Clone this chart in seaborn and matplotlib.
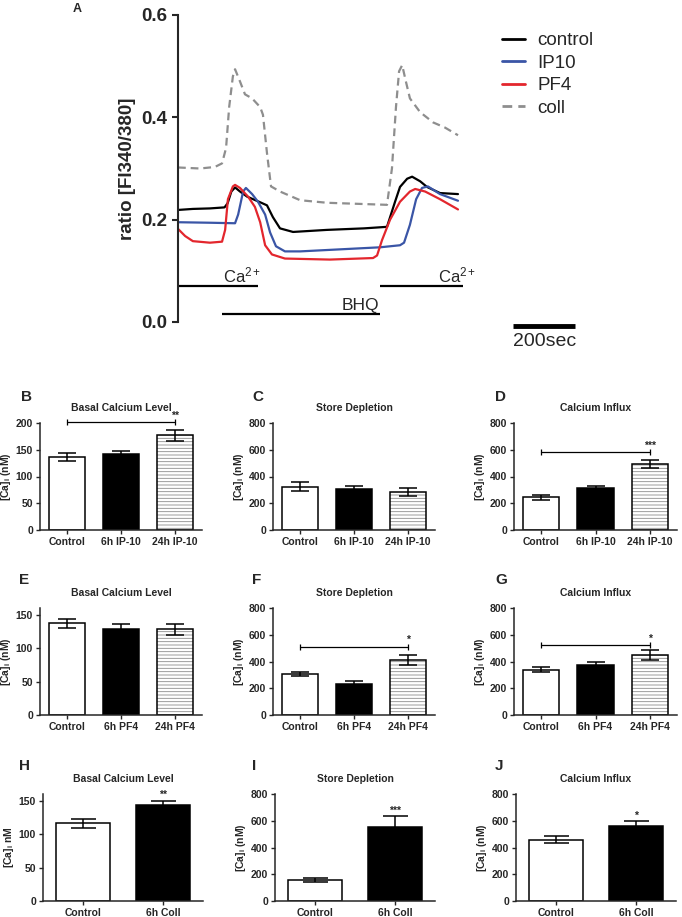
import numpy as np
import pandas as pd
import matplotlib
matplotlib.use("Agg")
import matplotlib.pyplot as plt
from matplotlib.patches import Rectangle
from matplotlib.ticker import FormatStrFormatter
import seaborn as sns

# ---------- panel A: fura-2 ratio traces (time in sec) ----------
ctrl_t = [0, 48, 103, 150, 160, 172, 184, 200, 223, 265, 287, 306, 329, 371, 480, 600, 674,
          700, 716, 739, 755, 781, 803, 845, 903]
ctrl_v = [0.219, 0.221, 0.222, 0.224, 0.232, 0.255, 0.263, 0.255, 0.245, 0.234, 0.228, 0.205,
          0.183, 0.176, 0.180, 0.183, 0.186, 0.235, 0.264, 0.280, 0.284, 0.275, 0.264, 0.252, 0.250]

ip10_t = [0, 103, 184, 194, 210, 219, 239, 258, 281, 297, 316, 345, 394, 523, 652, 716, 729,
          748, 768, 787, 806, 845, 903]
ip10_v = [0.195, 0.194, 0.193, 0.210, 0.255, 0.262, 0.250, 0.235, 0.210, 0.175, 0.148, 0.138,
          0.138, 0.142, 0.146, 0.150, 0.155, 0.190, 0.240, 0.262, 0.265, 0.250, 0.237]

pf4_t = [0, 23, 48, 103, 142, 152, 161, 177, 184, 200, 226, 248, 265, 281, 303, 345, 490, 629,
         642, 658, 684, 716, 748, 765, 797, 845, 903]
pf4_v = [0.182, 0.168, 0.158, 0.155, 0.157, 0.180, 0.240, 0.265, 0.268, 0.262, 0.245, 0.225,
         0.195, 0.150, 0.132, 0.124, 0.122, 0.125, 0.130, 0.160, 0.200, 0.235, 0.255, 0.260,
         0.255, 0.240, 0.220]

coll_t = [0, 71, 119, 142, 155, 165, 177, 184, 200, 216, 239, 265, 274, 287, 300, 329, 394, 481,
          674, 690, 703, 713, 723, 735, 748, 781, 823, 861, 903]
coll_v = [0.302, 0.300, 0.303, 0.310, 0.340, 0.420, 0.480, 0.494, 0.470, 0.445, 0.437, 0.420,
          0.405, 0.330, 0.265, 0.255, 0.238, 0.233, 0.229, 0.300, 0.420, 0.490, 0.502, 0.470,
          0.437, 0.410, 0.390, 0.380, 0.365]

trace_names = ["control", "IP10", "PF4", "coll"]
trace_colors = {"control": "black", "IP10": "#3a55a6", "PF4": "#e3262d", "coll": "#8e8e8e"}
trace_dashes = {"control": "", "IP10": "", "PF4": "", "coll": (3.5, 2.2)}

# protocol bars (sec) and scale bar
ca_start = [0, 652]
ca_end = [258, 919]
bhq_start, bhq_end = 142, 652
scale_start, scale_len = 1081, 200

# ---------- bar panels: mean and SEM of [Ca]i (nM) ----------
ip10_groups = ["Control", "6h IP-10", "24h IP-10"]
pf4_groups = ["Control", "6h PF4", "24h PF4"]
coll_groups = ["Control", "6h Coll"]

b_mean, b_sem = [136, 142, 177], [7, 6, 10]
c_mean, c_sem = [325, 303, 283], [33, 25, 30]
d_mean, d_sem = [243, 315, 490], [17, 13, 30]
e_mean, e_sem = [137, 129, 128], [7, 7, 8]
f_mean, f_sem = [305, 235, 413], [15, 20, 38]
g_mean, g_sem = [340, 375, 450], [18, 22, 38]
h_mean, h_sem = [116, 144], [7, 6]
i_mean, i_sem = [160, 555], [15, 80]
j_mean, j_sem = [458, 562], [27, 35]

sns.set_theme(style="ticks")
plt.rcParams["font.family"] = ["Liberation Sans", "DejaVu Sans"]
plt.rcParams["font.weight"] = "bold"
plt.rcParams["axes.labelweight"] = "bold"
plt.rcParams["axes.titleweight"] = "bold"
plt.rcParams["mathtext.fontset"] = "custom"
plt.rcParams["mathtext.rm"] = "Liberation Sans:normal"
plt.rcParams["mathtext.bf"] = "Liberation Sans:bold"
plt.rcParams["mathtext.it"] = "Liberation Sans:italic"
plt.rcParams["hatch.linewidth"] = 0.6

W, H = 682, 917
fig = plt.figure(figsize=(W / 100, H / 100), dpi=100)


def px_axes(l, t, r, b):
    return fig.add_axes([l / W, 1 - b / H, (r - l) / W, (b - t) / H])


# ---------- A ----------
ax_a = px_axes(178, 15, 600, 322)
traces = pd.concat([
    pd.DataFrame({"time": ctrl_t, "ratio": ctrl_v, "trace": "control"}),
    pd.DataFrame({"time": ip10_t, "ratio": ip10_v, "trace": "IP10"}),
    pd.DataFrame({"time": pf4_t, "ratio": pf4_v, "trace": "PF4"}),
    pd.DataFrame({"time": coll_t, "ratio": coll_v, "trace": "coll"}),
])
sns.lineplot(data=traces, x="time", y="ratio", hue="trace", style="trace",
             hue_order=trace_names, style_order=trace_names,
             palette=trace_colors, dashes=trace_dashes, linewidth=1.6,
             estimator=None, sort=False, ax=ax_a)
handles, labels = ax_a.get_legend_handles_labels()
ax_a.get_legend().remove()

ax_a.hlines([0.07] * len(ca_start), ca_start, ca_end, color="black", lw=1.6)
ax_a.hlines(0.016, bhq_start, bhq_end, color="black", lw=1.6)
ax_a.text(145, 0.071, "Ca$^{2+}$", fontsize=12, fontweight="normal", ha="left", va="bottom")
ax_a.text(839, 0.071, "Ca$^{2+}$", fontsize=12, fontweight="normal", ha="left", va="bottom")
ax_a.text(529, 0.017, "BHQ", fontsize=12.5, fontweight="normal", ha="left", va="bottom")
ax_a.plot([scale_start, scale_start + scale_len], [-0.008, -0.008], color="black", lw=3.5,
          solid_capstyle="butt", clip_on=False)
ax_a.text(scale_start, -0.022, f"{scale_len}sec", fontsize=14, fontweight="normal",
          ha="left", va="top")

ax_a.set_xlim(0, 1361)
ax_a.set_ylim(0, 0.6)
ax_a.set_yticks([0, 0.2, 0.4, 0.6])
ax_a.yaxis.set_major_formatter(FormatStrFormatter("%.1f"))
ax_a.set_xticks([])
ax_a.set_xlabel("")
ax_a.set_ylabel("ratio [FI340/380]", fontsize=13.5)
ax_a.tick_params(axis="y", labelsize=13.5, length=4, width=1.5)
for s in ["top", "right", "bottom"]:
    ax_a.spines[s].set_visible(False)
ax_a.spines["left"].set_linewidth(1.5)
ax_a.patch.set_alpha(0)

leg = fig.legend(handles, labels, loc="upper left", bbox_to_anchor=(502 / W, 1 - 32 / H),
                 frameon=False, prop={"size": 13.5, "weight": "normal"}, handlelength=1.2,
                 handletextpad=0.7, labelspacing=0.29, borderpad=0, borderaxespad=0)
for h in leg.legend_handles:
    h.set_linewidth(2.0)


# ---------- bar panels ----------
def bar_panel(ax, groups, means, sems, title, ylim, yticks, ylabel, cap=6.5):
    fills = ["white", "black", "white"][:len(groups)]
    sns.barplot(x=groups, y=means, hue=groups, palette=fills, legend=False, errorbar=None,
                edgecolor="black", linewidth=1.1, width=0.67, ax=ax)
    if len(groups) == 3:
        p = ax.patches[2]
        p.set_hatch("-----")
        p.set_edgecolor("#8c8c8c")
        p.set_linewidth(0)
        ax.add_patch(Rectangle(p.get_xy(), p.get_width(), p.get_height(), fill=False,
                               ec="black", lw=1.1, zorder=p.get_zorder() + 0.1))
    ax.errorbar(range(len(groups)), means, yerr=sems, fmt="none", ecolor="black",
                elinewidth=1.1, capsize=cap, capthick=1.1, zorder=4, clip_on=False)
    ax.set_xlim(-0.5, len(groups) - 0.5)
    ax.set_ylim(*ylim)
    ax.set_yticks(yticks)
    ax.set_title(title, fontsize=7.5, pad=9)
    ax.set_ylabel(ylabel, fontsize=7.5, labelpad=2)
    ax.set_xlabel("")
    ax.tick_params(labelsize=7.5, length=3, width=1, pad=2)
    for s in ["top", "right"]:
        ax.spines[s].set_visible(False)
    for s in ["left", "bottom"]:
        ax.spines[s].set_linewidth(1.1)


def bracket(ax, i0, i1, y, stars):
    ax.plot([i0, i1], [y, y], color="black", lw=0.9, marker="|", markersize=5, mew=0.9,
            clip_on=False)
    ax.annotate(stars, (i1, y), xytext=(0, 1), textcoords="offset points",
                ha="center", va="bottom", fontsize=7.5, annotation_clip=False)


def star_over(ax, i, y, stars):
    ax.annotate(stars, (i, y), xytext=(0, 0.5), textcoords="offset points",
                ha="center", va="bottom", fontsize=7.5, annotation_clip=False)


ca_lab = r"[Ca]$_\mathbf{i}$ (nM)"
big = [0, 200, 400, 600, 800]

ax_b = px_axes(40, 423, 202, 530)
bar_panel(ax_b, ip10_groups, b_mean, b_sem, "Basal Calcium Level", (0, 200),
          [0, 50, 100, 150, 200], ca_lab)
bracket(ax_b, 0, 2, 201, "**")

ax_c = px_axes(273, 423, 435, 530)
bar_panel(ax_c, ip10_groups, c_mean, c_sem, "Store Depletion", (0, 800), big, ca_lab)

ax_d = px_axes(514, 423, 677, 530)
bar_panel(ax_d, ip10_groups, d_mean, d_sem, "Calcium Influx", (0, 800), big, ca_lab)
bracket(ax_d, 0, 2, 580, "***")

ax_e = px_axes(40, 608, 202, 715)
bar_panel(ax_e, pf4_groups, e_mean, e_sem, "Basal Calcium Level", (0, 160),
          [0, 50, 100, 150], ca_lab)

ax_f = px_axes(273, 608, 435, 715)
bar_panel(ax_f, pf4_groups, f_mean, f_sem, "Store Depletion", (0, 800), big, ca_lab)
bracket(ax_f, 0, 2, 511, "*")

ax_g = px_axes(514, 608, 677, 715)
bar_panel(ax_g, pf4_groups, g_mean, g_sem, "Calcium Influx", (0, 800), big, ca_lab)
bracket(ax_g, 0, 2, 523, "*")

ax_h = px_axes(43, 794, 203, 901)
bar_panel(ax_h, coll_groups, h_mean, h_sem, "Basal Calcium Level", (0, 160),
          [0, 50, 100, 150], r"[Ca]$_\mathbf{i}$ nM", cap=9)
star_over(ax_h, 1, h_mean[1] + h_sem[1], "**")

ax_i = px_axes(275, 794, 435, 901)
bar_panel(ax_i, coll_groups, i_mean, i_sem, "Store Depletion", (0, 800), big, ca_lab, cap=9)
star_over(ax_i, 1, i_mean[1] + i_sem[1], "***")

ax_j = px_axes(516, 794, 676, 901)
bar_panel(ax_j, coll_groups, j_mean, j_sem, "Calcium Influx", (0, 800), big, ca_lab, cap=9)
star_over(ax_j, 1, j_mean[1] + j_sem[1], "*")

# panel letters
letters = {"A": (77, 9), "B": (26, 397), "C": (258, 397), "D": (500, 397),
           "E": (24, 580), "F": (257, 580), "G": (501, 580),
           "H": (25, 766), "I": (254, 766), "J": (499, 766)}
for k, (x, y) in letters.items():
    fig.text(x / W, 1 - y / H, k, fontsize=9 if k == "A" else 11, fontweight="bold",
             ha="center", va="center")

fig.savefig("out.png", dpi=100)
